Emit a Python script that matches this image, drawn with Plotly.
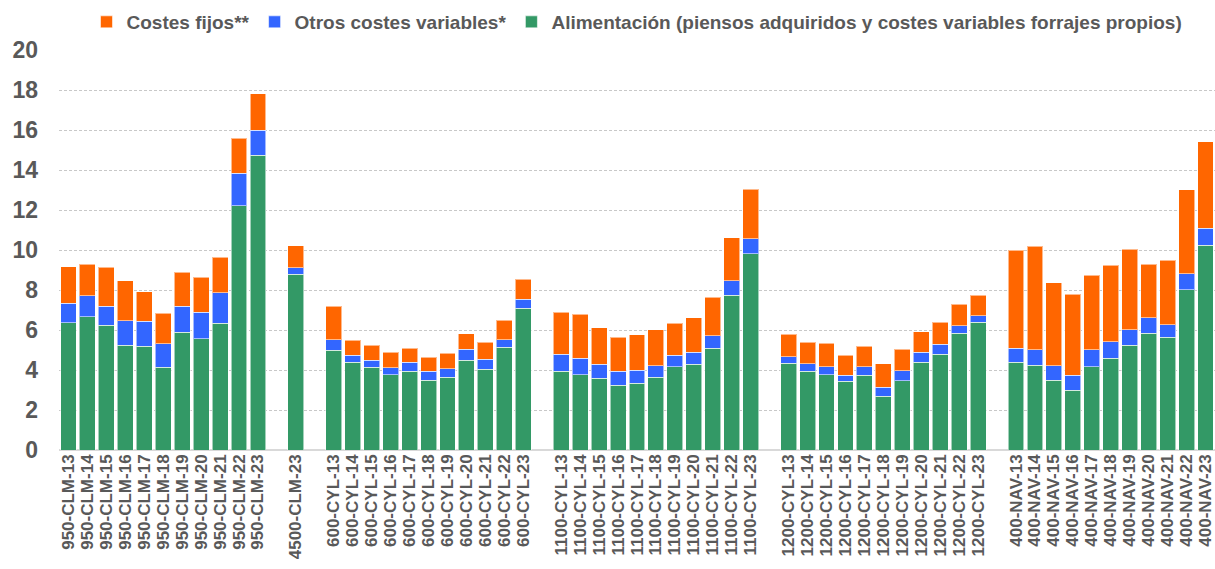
import plotly.graph_objects as go

groups = [
    ("950-CLM", list(range(13, 24))),
    ("4500-CLM", [23]),
    ("600-CYL", list(range(13, 24))),
    ("1100-CYL", list(range(13, 24))),
    ("1200-CYL", list(range(13, 24))),
    ("400-NAV", list(range(13, 24))),
]

# Values per bar (None for the blank spacer slots between groups)
alimentacion = [
    6.37, 6.67, 6.23, 5.23, 5.20, 4.13, 5.88, 5.57, 6.33, 12.22, 14.73,
    None,
    8.78,
    None,
    5.00, 4.38, 4.13, 3.77, 3.93, 3.48, 3.63, 4.48, 4.03, 5.15, 7.10,
    None,
    3.93, 3.77, 3.58, 3.23, 3.33, 3.63, 4.17, 4.28, 5.08, 7.75, 9.82,
    None,
    4.33, 3.93, 3.77, 3.43, 3.73, 2.68, 3.47, 4.38, 4.78, 5.83, 6.38,
    None,
    4.38, 4.23, 3.48, 3.00, 4.17, 4.58, 5.25, 5.83, 5.63, 8.02, 10.23,
]
otros_variables = [
    0.96, 1.05, 0.97, 1.24, 1.23, 1.19, 1.32, 1.31, 1.54, 1.61, 1.27,
    None,
    0.34,
    None,
    0.52, 0.35, 0.35, 0.35, 0.45, 0.45, 0.44, 0.55, 0.50, 0.37, 0.45,
    None,
    0.85, 0.81, 0.70, 0.70, 0.65, 0.59, 0.56, 0.62, 0.64, 0.72, 0.75,
    None,
    0.34, 0.39, 0.40, 0.32, 0.44, 0.47, 0.50, 0.50, 0.52, 0.39, 0.34,
    None,
    0.70, 0.79, 0.74, 0.75, 0.85, 0.84, 0.77, 0.79, 0.64, 0.80, 0.85,
]
costes_fijos = [
    1.84, 1.56, 1.93, 2.00, 1.49, 1.51, 1.68, 1.75, 1.78, 1.77, 1.82,
    None,
    1.10,
    None,
    1.68, 0.77, 0.77, 0.76, 0.72, 0.70, 0.78, 0.79, 0.87, 0.96, 0.98,
    None,
    2.10, 2.20, 1.84, 1.72, 1.79, 1.80, 1.60, 1.72, 1.93, 2.15, 2.46,
    None,
    1.13, 1.08, 1.16, 0.98, 1.03, 1.17, 1.06, 1.04, 1.08, 1.08, 1.03,
    None,
    4.92, 5.18, 4.15, 4.05, 3.71, 3.81, 4.03, 2.66, 3.21, 4.20, 4.34,
]

# Build category labels, with unique blank spacer categories between groups
categories = []
for gi, (prefix, years) in enumerate(groups):
    if gi > 0:
        categories.append(" " * gi)
    for y in years:
        categories.append(f"{prefix}-{y}")

series = [
    ("Alimentación (piensos adquiridos y costes variables forrajes propios)", alimentacion, "#339966"),
    ("Otros costes variables*", otros_variables, "#3366FF"),
    ("Costes fijos**", costes_fijos, "#FF6600"),
]

text_color = "#595959"
font_family = "Liberation Sans, Arial, sans-serif"

fig = go.Figure()
for name, vals, color in series:
    fig.add_trace(go.Bar(
        x=categories, y=vals, name=name,
        marker=dict(color=color, line=dict(color="rgba(255,255,255,0.55)", width=1)),
    ))

fig.update_layout(
    barmode="stack",
    bargap=0.16,
    width=1215, height=569,
    autosize=False,
    margin=dict(l=59, r=0, t=50, b=119, autoexpand=False),
    plot_bgcolor="white", paper_bgcolor="white",
    font=dict(family=font_family, color=text_color),
    legend=dict(
        orientation="h", x=0.5, xanchor="center", y=1.07, yanchor="middle",
        traceorder="reversed",
        font=dict(size=19, color=text_color, family=font_family, weight="bold"),
        itemwidth=30, tracegroupgap=0,
    ),
    showlegend=True,
)
fig.update_xaxes(
    type="category", categoryorder="array", categoryarray=categories,
    tickmode="array", tickvals=categories, ticktext=categories,
    tickangle=-90, ticks="", showgrid=False, automargin=False,
    tickfont=dict(size=17, color=text_color, family=font_family, weight="bold"),
    showline=False,
)
fig.update_yaxes(
    range=[0, 20], dtick=2, showgrid=True, gridcolor="#C8C8C8", griddash="3px,2px",
    gridwidth=1, zeroline=True, zerolinecolor="#D9D9D9", zerolinewidth=2,
    tickfont=dict(size=23, color=text_color, family=font_family, weight="bold"),
    ticks="", ticklabelstandoff=20, automargin=False,
)

fig.write_html(
    "out.html",
    config={"displayModeBar": False},
    post_script="document.body.style.margin='0';document.body.style.overflow='hidden';",
)
